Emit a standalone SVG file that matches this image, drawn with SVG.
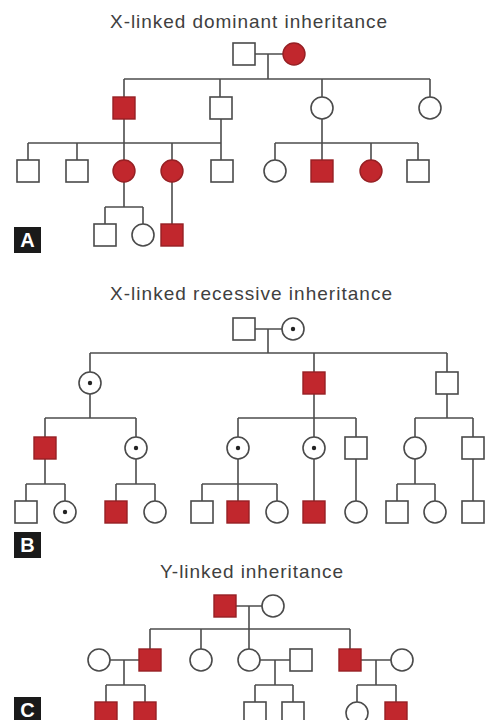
<svg xmlns="http://www.w3.org/2000/svg" width="485" height="720" viewBox="0 0 485 720">
<style>
.bg{fill:#ffffff}
.n{fill:#ffffff;stroke:#4a4a4a;stroke-width:1.6}
.a{fill:#c1272d;stroke:#962024;stroke-width:1.4}
.dot{fill:#222222}
.ln{fill:none;stroke:#4d4d4d;stroke-width:1.6}
.title{font-family:"Liberation Sans",Arial,sans-serif;font-size:19px;fill:#404040;text-anchor:start}
.lb{fill:#1a1a1a}
.lt{font-family:"Liberation Sans",Arial,sans-serif;font-size:20px;font-weight:bold;fill:#ffffff;text-anchor:middle}
</style>
<defs>
<rect id="sq" x="-11" y="-11" width="22" height="22"/>
<circle id="ci" r="11"/>
</defs>
<rect class="bg" x="0" y="0" width="485" height="720"/>

<!-- Titles and panel labels -->
<g id="titleA"><text class="title" x="110" y="28" textLength="277" lengthAdjust="spacing">X-linked dominant inheritance</text></g>
<g id="titleB"><text class="title" x="110" y="300" textLength="282" lengthAdjust="spacing">X-linked recessive inheritance</text></g>
<g id="titleC"><text class="title" x="160" y="578" textLength="183" lengthAdjust="spacing">Y-linked inheritance</text></g>
<g id="labelA"><rect class="lb" x="14" y="227" width="27" height="26"/><text class="lt" x="27.5" y="247">A</text></g>
<g id="labelB"><rect class="lb" x="14" y="532" width="27" height="26"/><text class="lt" x="27.5" y="552">B</text></g>
<g id="labelC"><rect class="lb" x="14" y="697" width="27" height="26"/><text class="lt" x="27.5" y="717">C</text></g>

<!-- Connectors -->
<g id="connectors" class="ln">
<!-- Panel A -->
<path d="M255 54H283M268 54V79M124 79H430M124 79V97M220 79V97M322 79V97M430 79V97"/>
<path d="M124 119V143M221 119V160M28 143H221M28 143V160M77 143V160M124 143V160M172 143V160"/>
<path d="M322 119V160M275 143H418M275 143V160M371 143V160M418 143V160"/>
<path d="M124 182V207M105 207H143M105 207V224M143 207V224M172 182V224"/>
<!-- Panel B -->
<path d="M255 329H282M268 329V353M90 353H447M90 353V372M314 353V372M447 353V372"/>
<path d="M90 394V418M45 418H136M45 418V437M136 418V437"/>
<path d="M314 394V437M238 418H356M238 418V437M356 418V437"/>
<path d="M447 394V418M415 418H473M415 418V437M473 418V437"/>
<path d="M45 459V484M26 484H65M26 484V501M65 484V501"/>
<path d="M136 459V484M116 484H155M116 484V501M155 484V501"/>
<path d="M238 459V484M202 484H277M202 484V501M238 484V501M277 484V501"/>
<path d="M314 459V501M356 459V501M473 459V501"/>
<path d="M415 459V484M397 484H435M397 484V501M435 484V501"/>
<!-- Panel C -->
<path d="M236 606H262M249 606V629M150 629H350M150 629V649M201 629V649M249 629V649M350 629V649"/>
<path d="M110 660H139M124 660V685M106 685H145M106 685V702M145 685V702"/>
<path d="M260 660H290M275 660V685M255 685H293M255 685V702M293 685V702"/>
<path d="M361 660H391M376 660V685M357 685H396M357 685V702M396 685V702"/>
</g>

<!-- Panel A nodes -->
<g id="A-I1"><use href="#sq" class="n" x="244" y="54"/></g>
<g id="A-I2"><use href="#ci" class="a" x="294" y="54"/></g>
<g id="A-II1"><use href="#sq" class="a" x="124" y="108"/></g>
<g id="A-II2"><use href="#sq" class="n" x="221" y="108"/></g>
<g id="A-II3"><use href="#ci" class="n" x="322" y="108"/></g>
<g id="A-II4"><use href="#ci" class="n" x="430" y="108"/></g>
<g id="A-III1"><use href="#sq" class="n" x="28" y="171"/></g>
<g id="A-III2"><use href="#sq" class="n" x="77" y="171"/></g>
<g id="A-III3"><use href="#ci" class="a" x="124" y="171"/></g>
<g id="A-III4"><use href="#ci" class="a" x="172" y="171"/></g>
<g id="A-III5"><use href="#sq" class="n" x="222" y="171"/></g>
<g id="A-III6"><use href="#ci" class="n" x="275" y="171"/></g>
<g id="A-III7"><use href="#sq" class="a" x="322" y="171"/></g>
<g id="A-III8"><use href="#ci" class="a" x="371" y="171"/></g>
<g id="A-III9"><use href="#sq" class="n" x="418" y="171"/></g>
<g id="A-IV1"><use href="#sq" class="n" x="105" y="235"/></g>
<g id="A-IV2"><use href="#ci" class="n" x="143" y="235"/></g>
<g id="A-IV3"><use href="#sq" class="a" x="172" y="235"/></g>

<!-- Panel B nodes -->
<g id="B-I1"><use href="#sq" class="n" x="244" y="329"/></g>
<g id="B-I2"><use href="#ci" class="n" x="293" y="329"/><circle class="dot" cx="293" cy="329" r="2.2"/></g>
<g id="B-II1"><use href="#ci" class="n" x="90" y="383"/><circle class="dot" cx="90" cy="383" r="2.2"/></g>
<g id="B-II2"><use href="#sq" class="a" x="314" y="383"/></g>
<g id="B-II3"><use href="#sq" class="n" x="447" y="383"/></g>
<g id="B-III1"><use href="#sq" class="a" x="45" y="448"/></g>
<g id="B-III2"><use href="#ci" class="n" x="136" y="448"/><circle class="dot" cx="136" cy="448" r="2.2"/></g>
<g id="B-III3"><use href="#ci" class="n" x="238" y="448"/><circle class="dot" cx="238" cy="448" r="2.2"/></g>
<g id="B-III4"><use href="#ci" class="n" x="314" y="448"/><circle class="dot" cx="314" cy="448" r="2.2"/></g>
<g id="B-III5"><use href="#sq" class="n" x="356" y="448"/></g>
<g id="B-III6"><use href="#ci" class="n" x="415" y="448"/></g>
<g id="B-III7"><use href="#sq" class="n" x="473" y="448"/></g>
<g id="B-IV1"><use href="#sq" class="n" x="26" y="512"/></g>
<g id="B-IV2"><use href="#ci" class="n" x="65" y="512"/><circle class="dot" cx="65" cy="512" r="2.2"/></g>
<g id="B-IV3"><use href="#sq" class="a" x="116" y="512"/></g>
<g id="B-IV4"><use href="#ci" class="n" x="155" y="512"/></g>
<g id="B-IV5"><use href="#sq" class="n" x="202" y="512"/></g>
<g id="B-IV6"><use href="#sq" class="a" x="238" y="512"/></g>
<g id="B-IV7"><use href="#ci" class="n" x="277" y="512"/></g>
<g id="B-IV8"><use href="#sq" class="a" x="314" y="512"/></g>
<g id="B-IV9"><use href="#ci" class="n" x="356" y="512"/></g>
<g id="B-IV10"><use href="#sq" class="n" x="397" y="512"/></g>
<g id="B-IV11"><use href="#ci" class="n" x="435" y="512"/></g>
<g id="B-IV12"><use href="#sq" class="n" x="473" y="512"/></g>

<!-- Panel C nodes -->
<g id="C-I1"><use href="#sq" class="a" x="225" y="606"/></g>
<g id="C-I2"><use href="#ci" class="n" x="273" y="606"/></g>
<g id="C-II1"><use href="#ci" class="n" x="99" y="660"/></g>
<g id="C-II2"><use href="#sq" class="a" x="150" y="660"/></g>
<g id="C-II3"><use href="#ci" class="n" x="201" y="660"/></g>
<g id="C-II4"><use href="#ci" class="n" x="249" y="660"/></g>
<g id="C-II5"><use href="#sq" class="n" x="301" y="660"/></g>
<g id="C-II6"><use href="#sq" class="a" x="350" y="660"/></g>
<g id="C-II7"><use href="#ci" class="n" x="402" y="660"/></g>
<g id="C-III1"><use href="#sq" class="a" x="106" y="713"/></g>
<g id="C-III2"><use href="#sq" class="a" x="145" y="713"/></g>
<g id="C-III3"><use href="#sq" class="n" x="255" y="713"/></g>
<g id="C-III4"><use href="#sq" class="n" x="293" y="713"/></g>
<g id="C-III5"><use href="#ci" class="n" x="357" y="713"/></g>
<g id="C-III6"><use href="#sq" class="a" x="396" y="713"/></g>
</svg>
